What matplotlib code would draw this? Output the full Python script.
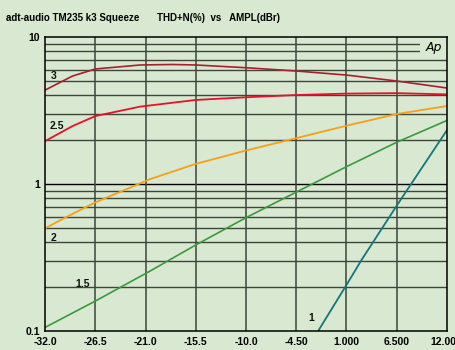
import numpy as np
import matplotlib.pyplot as plt
import matplotlib.transforms as mtransforms
from matplotlib.patches import Rectangle

# THD+N (%) against output amplitude (dBr), one curve per squeeze setting
ampl_3 = [-32.0, -29.0, -26.5, -21.6, -18.0, -15.5, -10.0, -4.5, 1.0, 6.5, 12.0]
thd_3 = [4.36, 5.43, 6.06, 6.45, 6.5, 6.45, 6.18, 5.87, 5.51, 5.02, 4.50]

ampl_25 = [-32.0, -29.0, -26.5, -21.6, -15.5, -10.0, -4.5, 1.0, 6.5, 12.0]
thd_25 = [1.96, 2.48, 2.90, 3.36, 3.73, 3.89, 4.03, 4.12, 4.15, 4.07]

ampl_2 = [-32.0, -29.6, -26.5, -20.5, -15.5, -10.0, -4.5, 1.0, 6.5, 12.0]
thd_2 = [0.50, 0.60, 0.75, 1.08, 1.37, 1.69, 2.05, 2.49, 2.99, 3.39]

ampl_15 = [-32.0, -26.5, -20.5, -15.5, -10.0, -4.5, 1.0, 6.5, 12.0]
thd_15 = [0.106, 0.16, 0.256, 0.385, 0.59, 0.88, 1.31, 1.92, 2.70]

ampl_1 = [-2.09, 1.0, 2.66, 6.5, 12.0]
thd_1 = [0.1, 0.205, 0.304, 0.709, 2.31]

x_ticks = [-32.0, -26.5, -21.0, -15.5, -10.0, -4.5, 1.0, 6.5, 12.0]
x_labels = ['-32.0', '-26.5', '-21.0', '-15.5', '-10.0', '-4.50', '1.000', '6.500', '12.00']
y_ticks = [0.1, 1, 10]
y_labels = ['0.1', '1', '10']

bg = '#d9e8d0'
plt.rcParams['font.family'] = ['Liberation Sans', 'DejaVu Sans']

fig = plt.figure(figsize=(4.56, 3.5), dpi=100, facecolor=bg)
ax = fig.add_axes([0.0993, 0.0543, 0.8803, 0.84])
ax.set_facecolor(bg)
ax.set_yscale('log')
ax.set_xlim(-32, 12)
ax.set_ylim(0.1, 10)

# grid: minor decades in dark grey, majors and verticals in black
for dec in [0.1, 1]:
    for k in range(2, 10):
        ax.axhline(dec * k, color='#3c463c', lw=1.0, zorder=1)
ax.axhline(1, color='black', lw=1.0, zorder=1)
for xv in x_ticks[1:-1]:
    ax.axvline(xv, color='#3c463c', lw=1.1, zorder=1)

ax.plot(ampl_3, thd_3, color='#a8202e', lw=1.2, zorder=3)
ax.plot(ampl_25, thd_25, color='#e8102a', lw=1.3, zorder=3)
ax.plot(ampl_2, thd_2, color='#f5a01a', lw=1.3, zorder=3)
ax.plot(ampl_15, thd_15, color='#3a9a3a', lw=1.2, zorder=3)
ax.plot(ampl_1, thd_1, color='#10787c', lw=1.3, zorder=3)

lbl = dict(fontsize=7.5, fontweight='bold', color='#111111', zorder=4)
ax.text(-31.4, 5.2, '3', **lbl)
ax.text(-31.5, 2.35, '2.5', **lbl)
ax.text(-31.4, 0.41, '2', **lbl)
ax.text(-28.75, 0.2, '1.5', **lbl)
ax.text(-3.2, 0.117, '1', **lbl)

# logo box in the top right corner
trans = mtransforms.blended_transform_factory(ax.transAxes, ax.transData)
ax.add_patch(Rectangle((0.934, 7.3), 0.066, 2.68, transform=trans,
                       facecolor=bg, edgecolor='none', zorder=2))
ax.text(0.967, 8.5, 'Ap', transform=trans, ha='center', va='center',
        fontsize=9, style='italic', family='DejaVu Sans', zorder=4)

ax.set_xticks(x_ticks)
ax.set_xticklabels(x_labels)
ax.set_yticks(y_ticks)
ax.set_yticklabels(y_labels)
ax.minorticks_off()
ax.tick_params(length=0, labelsize=7.5, pad=4)
for t in ax.get_xticklabels() + ax.get_yticklabels():
    t.set_fontweight('bold')
# keep the last amplitude label inside the figure edge
last = ax.get_xticklabels()[-1]
last.set_transform(last.get_transform() + mtransforms.ScaledTranslation(-3 / 100, 0, fig.dpi_scale_trans))
for s in ax.spines.values():
    s.set_linewidth(1.1)
    s.set_zorder(5)

fig.text(0.013, 0.94, 'adt-audio TM235 k3 Squeeze', fontsize=7, fontweight='bold')
fig.text(0.344, 0.94, 'THD+N(%)  vs   AMPL(dBr)', fontsize=7, fontweight='bold')

fig.savefig('out.png', dpi=100, facecolor=bg)
